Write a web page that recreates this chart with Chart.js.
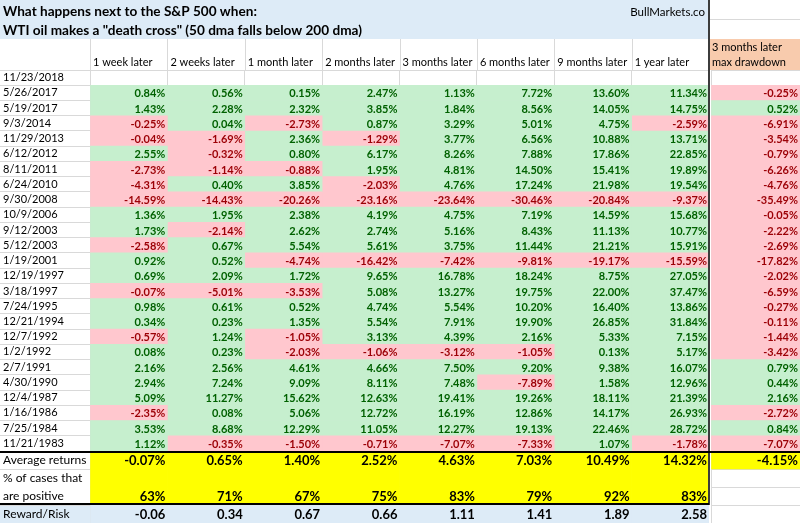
<!DOCTYPE html>
<html>
<head>
<meta charset="utf-8">
<title>S&amp;P 500 after a WTI oil death cross</title>
<script src="https://cdn.jsdelivr.net/npm/chart.js@4.4.1/dist/chart.umd.min.js"></script>
<style>
  html, body { margin: 0; padding: 0; background: #fff; }
  #wrap { position: relative; width: 800px; height: 523px; overflow: hidden; }
  #wrap canvas { position: absolute; }
  .rule { position: absolute; }
</style>
</head>
<body>
<div id="wrap">
  <canvas id="mainTable" width="709" height="451" style="left:0;top:0"></canvas>
  <canvas id="ddTable" width="91" height="451" style="left:709px;top:0"></canvas>
  <canvas id="sumTable" width="709" height="72" style="left:0;top:451px"></canvas>
  <canvas id="ddSum" width="91" height="72" style="left:709px;top:451px"></canvas>
  <div class="rule" style="left:708px;top:0;width:2px;height:505px;background:#3c3c3c"></div>
  <div class="rule" style="left:0;top:451px;width:800px;height:2px;background:#000"></div>
  <div class="rule" style="left:0;top:503px;width:709px;height:2px;background:#000"></div>
</div>
<script>
const titleLine1 = 'What happens next to the S&P 500 when:';
const titleLine2 = 'WTI oil makes a "death cross" (50 dma falls below 200 dma)';
const source = 'BullMarkets.co';

const dates = ['11/23/2018', '5/26/2017', '5/19/2017', '9/3/2014', '11/29/2013', '6/12/2012',
  '8/11/2011', '6/24/2010', '9/30/2008', '10/9/2006', '9/12/2003', '5/12/2003', '1/19/2001',
  '12/19/1997', '3/18/1997', '7/24/1995', '12/21/1994', '12/7/1992', '1/2/1992', '2/7/1991',
  '4/30/1990', '12/4/1987', '1/16/1986', '7/25/1984', '11/21/1983'];

const columnNames = ['1 week later', '2 weeks later', '1 month later', '2 months later',
  '3 months later', '6 months later', '9 months later', '1 year later'];
const drawdownHeader = ['3 months later', 'max drawdown'];

const oneWeek = [null, 0.84, 1.43, -0.25, -0.04, 2.55, -2.73, -4.31, -14.59, 1.36, 1.73, -2.58, 0.92,
  0.69, -0.07, 0.98, 0.34, -0.57, 0.08, 2.16, 2.94, 5.09, -2.35, 3.53, 1.12];
const twoWeeks = [null, 0.56, 2.28, 0.04, -1.69, -0.32, -1.14, 0.40, -14.43, 1.95, -2.14, 0.67, 0.52,
  2.09, -5.01, 0.61, 0.23, 1.24, 0.23, 2.56, 7.24, 11.27, 0.08, 8.68, -0.35];
const oneMonth = [null, 0.15, 2.32, -2.73, 2.36, 0.80, -0.88, 3.85, -20.26, 2.38, 2.62, 5.54, -4.74,
  1.72, -3.53, 0.52, 1.35, -1.05, -2.03, 4.61, 9.09, 15.62, 5.06, 12.29, -1.50];
const twoMonths = [null, 2.47, 3.85, 0.87, -1.29, 6.17, 1.95, -2.03, -23.16, 4.19, 2.74, 5.61, -16.42,
  9.65, 5.08, 4.74, 5.54, 3.13, -1.06, 4.66, 8.11, 12.63, 12.72, 11.05, -0.71];
const threeMonths = [null, 1.13, 1.84, 3.29, 3.77, 8.26, 4.81, 4.76, -23.64, 4.75, 5.16, 3.75, -7.42,
  16.78, 13.27, 5.54, 7.91, 4.39, -3.12, 7.50, 7.48, 19.41, 16.19, 12.27, -7.07];
const sixMonths = [null, 7.72, 8.56, 5.01, 6.56, 7.88, 14.50, 17.24, -30.46, 7.19, 8.43, 11.44, -9.81,
  18.24, 19.75, 10.20, 19.90, 2.16, -1.05, 9.20, -7.89, 19.26, 12.86, 19.13, -7.33];
const nineMonths = [null, 13.60, 14.05, 4.75, 10.88, 17.86, 15.41, 21.98, -20.84, 14.59, 11.13, 21.21, -19.17,
  8.75, 22.00, 16.40, 26.85, 5.33, 0.13, 9.38, 1.58, 18.11, 14.17, 22.46, 1.07];
const oneYear = [null, 11.34, 14.75, -2.59, 13.71, 22.85, 19.89, 19.54, -9.37, 15.68, 10.77, 15.91, -15.59,
  27.05, 37.47, 13.86, 31.84, 7.15, 5.17, 16.07, 12.96, 21.39, 26.93, 28.72, -1.78];
const maxDrawdown = [null, -0.25, 0.52, -6.91, -3.54, -0.79, -6.26, -4.76, -35.49, -0.05, -2.22, -2.69, -17.82,
  -2.02, -6.59, -0.27, -0.11, -1.44, -3.42, 0.79, 0.44, 2.16, -2.72, 0.84, -7.07];

const summaryLabels = ['Average returns', '% of cases that', 'are positive', 'Reward/Risk'];
const avgReturns = [-0.07, 0.65, 1.40, 2.52, 4.63, 7.03, 10.49, 14.32];
const avgMaxDrawdown = -4.15;
const pctPositive = [63, 71, 67, 75, 83, 79, 92, 83];
const rewardRisk = [-0.06, 0.34, 0.67, 0.66, 1.11, 1.41, 1.89, 2.58];

const returnColumns = [oneWeek, twoWeeks, oneMonth, twoMonths, threeMonths, sixMonths, nineMonths, oneYear];

// ---- styling ----
const FONT = 'Lato, "Open Sans", "Noto Sans", sans-serif';
const GREEN_BG = '#c6efce', GREEN_TXT = '#006100';
const RED_BG = '#ffc7ce', RED_TXT = '#9c0006';
const YELLOW = '#ffff00', BLUE_BG = '#ddebf7', SALMON = '#f8cbad';
const GRID = '#d9d9d9';
const CELL_FONT = 'bold 11px ' + FONT;
const SUM_FONT = 'bold 13px ' + FONT;

Chart.defaults.font.family = FONT;
Chart.defaults.color = '#000';
Chart.defaults.animation = false;

const pct = v => v.toFixed(2) + '%';

// writes each cell's text right-aligned inside its bar
const cellText = {
  id: 'cellText',
  afterDatasetsDraw(chart) {
    const ctx = chart.ctx;
    chart.data.datasets.forEach((ds, i) => {
      const meta = chart.getDatasetMeta(i);
      meta.data.forEach((bar, j) => {
        const txt = ds.texts[j];
        if (!txt) return;
        const right = Math.max(bar.x, bar.base);
        ctx.save();
        ctx.font = ds.fonts[j];
        ctx.fillStyle = ds.textColors[j];
        ctx.textAlign = 'right';
        ctx.textBaseline = 'middle';
        ctx.fillText(txt, right - 2, bar.y + 1);
        ctx.restore();
      });
    });
  }
};

function returnDataset(vals, font) {
  return {
    data: vals.map(v => v === null ? null : 1),
    backgroundColor: vals.map(v => v < 0 ? RED_BG : GREEN_BG),
    texts: vals.map(v => v === null ? '' : pct(v)),
    textColors: vals.map(v => v < 0 ? RED_TXT : GREEN_TXT),
    fonts: vals.map(() => font),
    borderWidth: 0,
    barPercentage: 1,
    categoryPercentage: 1
  };
}

function tableOptions(nCols, labelWidth, padTop, padLeft, yGridColor, yFont) {
  return {
    indexAxis: 'y',
    responsive: false,
    animation: false,
    layout: { padding: { top: padTop, left: padLeft, right: 0, bottom: 0 } },
    plugins: { legend: { display: false }, tooltip: { enabled: false } },
    scales: {
      x: {
        type: 'linear', stacked: true, min: 0, max: nCols, position: 'bottom',
        ticks: { display: false, stepSize: 1 },
        grid: { color: GRID, drawTicks: false },
        border: { display: false },
        afterFit(s) { s.height = 0; }
      },
      y: {
        stacked: true,
        ticks: { display: labelWidth > 0, autoSkip: false, crossAlign: 'far', padding: 0, font: yFont, color: '#000' },
        grid: { color: yGridColor, offset: true, drawTicks: labelWidth > 0, tickLength: labelWidth + padLeft },
        border: { display: false },
        afterFit(s) {
          s.width = labelWidth;
          s.paddingTop = 0;
          s.paddingBottom = 0;
        }
      }
    }
  };
}

// title band and column headings above the main block
const mainHeader = {
  id: 'mainHeader',
  beforeDraw(chart) {
    const { ctx } = chart;
    const x = chart.scales.x;
    ctx.save();
    ctx.fillStyle = BLUE_BG;
    ctx.fillRect(0, 0, chart.width, 39);
    ctx.strokeStyle = GRID;
    ctx.lineWidth = 1;
    ctx.beginPath();
    for (let c = 0; c < columnNames.length; c++) {
      const px = Math.round(x.getPixelForValue(c)) + 0.5;
      ctx.moveTo(px, 39);
      ctx.lineTo(px, 70);
    }
    ctx.stroke();
    ctx.restore();
  },
  afterDraw(chart) {
    const { ctx } = chart;
    const x = chart.scales.x;
    ctx.save();
    ctx.fillStyle = '#000';
    ctx.textBaseline = 'alphabetic';
    ctx.font = 'bold 13.6px ' + FONT;
    ctx.fillText(titleLine1, 3, 16);
    ctx.fillText(titleLine2, 3, 35);
    ctx.font = '11.5px ' + FONT;
    ctx.textAlign = 'right';
    ctx.fillText(source, chart.width - 4, 16);
    ctx.textAlign = 'left';
    ctx.font = '11px ' + FONT;
    columnNames.forEach((name, c) => {
      ctx.fillText(name, x.getPixelForValue(c) + 3, 66);
    });
    ctx.restore();
  }
};

const ddHeader = {
  id: 'ddHeader',
  beforeDraw(chart) {
    const { ctx } = chart;
    ctx.save();
    ctx.strokeStyle = GRID;
    ctx.lineWidth = 1;
    ctx.beginPath();
    ctx.moveTo(0, 19.5); ctx.lineTo(chart.width, 19.5);
    ctx.stroke();
    ctx.fillStyle = SALMON;
    ctx.fillRect(0, 39, chart.width, 31);
    ctx.fillStyle = '#000';
    ctx.font = '11px ' + FONT;
    ctx.fillText(drawdownHeader[0], 3, 51);
    ctx.fillText(drawdownHeader[1], 3, 66);
    ctx.restore();
  }
};

// light blue label cell for the Reward/Risk row
const sumLabelBg = {
  id: 'sumLabelBg',
  beforeDraw(chart) {
    const { ctx, chartArea } = chart;
    const y = chart.scales.y;
    const band = y.getPixelForValue(1) - y.getPixelForValue(0);
    const top = y.getPixelForValue(3) - band / 2;
    ctx.save();
    ctx.fillStyle = BLUE_BG;
    ctx.fillRect(0, top, chartArea.left, band);
    ctx.restore();
  }
};

// main block: one stacked unit per column, one bar row per date
new Chart(document.getElementById('mainTable'), {
  type: 'bar',
  data: {
    labels: dates,
    datasets: returnColumns.map(col => returnDataset(col, CELL_FONT))
  },
  options: tableOptions(returnColumns.length, 87, 70, 3, GRID, { size: 11 }),
  plugins: [mainHeader, cellText]
});

new Chart(document.getElementById('ddTable'), {
  type: 'bar',
  data: {
    labels: dates,
    datasets: [returnDataset(maxDrawdown, CELL_FONT)]
  },
  options: tableOptions(1, 0, 70, 2, GRID, { size: 11 }),
  plugins: [ddHeader, cellText]
});

// summary block
const summaryFills = [YELLOW, YELLOW, YELLOW, BLUE_BG];
new Chart(document.getElementById('sumTable'), {
  type: 'bar',
  data: {
    labels: summaryLabels,
    datasets: avgReturns.map((avg, c) => ({
      data: summaryLabels.map(() => 1),
      backgroundColor: summaryFills,
      texts: [pct(avg), '', pctPositive[c] + '%', rewardRisk[c].toFixed(2)],
      textColors: summaryLabels.map(() => '#000'),
      fonts: summaryLabels.map(() => SUM_FONT),
      borderWidth: 0,
      barPercentage: 1,
      categoryPercentage: 1
    }))
  },
  options: tableOptions(avgReturns.length, 87, 0, 3,
    ctx => ctx.index === 2 ? 'rgba(0,0,0,0)' : GRID, { size: 12 }),
  plugins: [sumLabelBg, cellText]
});

new Chart(document.getElementById('ddSum'), {
  type: 'bar',
  data: {
    labels: summaryLabels,
    datasets: [{
      data: [1, null, null, null],
      backgroundColor: YELLOW,
      texts: [pct(avgMaxDrawdown), '', '', ''],
      textColors: summaryLabels.map(() => '#000'),
      fonts: summaryLabels.map(() => SUM_FONT),
      borderWidth: 0,
      barPercentage: 1,
      categoryPercentage: 1
    }]
  },
  options: tableOptions(1, 0, 0, 2, GRID, { size: 11 }),
  plugins: [cellText]
});
</script>
</body>
</html>
